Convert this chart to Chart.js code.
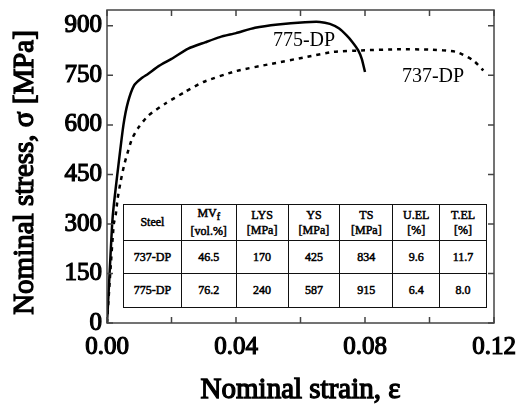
<!DOCTYPE html>
<html>
<head>
<meta charset="utf-8">
<script src="https://cdn.jsdelivr.net/npm/chart.js@4"></script>
<style>
  body { margin: 0; background: #fff; }
  #wrap { position: relative; width: 527px; height: 405px; }
  #props {
    position: absolute; left: 123px; top: 204px; width: 364px; height: 103px;
    border-collapse: collapse; background: #fff;
    font-family: "Liberation Serif", serif; font-size: 12px;
    -webkit-text-stroke: 0.5px #000;
    color: #000; text-align: center;
  }
  #props td { border: 1.5px solid #111; padding: 0; line-height: 1.25; }
</style>
</head>
<body>
<div id="wrap">
  <canvas id="chart" width="527" height="405"></canvas>
  <table id="props"></table>
</div>
<script>
// curves: strain / stress in MPa
const strain775 = [0, 0.0008, 0.0016, 0.0021, 0.0032, 0.0051, 0.0065, 0.0084, 0.0105, 0.0128, 0.016, 0.020, 0.0252, 0.0304, 0.035, 0.040, 0.0459, 0.053, 0.0614, 0.066, 0.0691, 0.072, 0.0743, 0.076, 0.0779, 0.079, 0.080];
const stress775 = [0, 150, 300, 357, 450, 600, 669, 720, 740, 755, 778, 800, 831, 850, 866, 878, 894, 904, 911, 912, 906, 892, 871, 852, 826, 800, 760];
const strain737 = [0, 0.0010, 0.0021, 0.0027, 0.0033, 0.0042, 0.0053, 0.0063, 0.0078, 0.0099, 0.0128, 0.018, 0.0242, 0.0299, 0.040, 0.051, 0.0614, 0.0701, 0.080, 0.090, 0.100, 0.1084, 0.1136, 0.1167];
const stress737 = [0, 150, 300, 327, 377, 427, 478, 513, 559, 594, 628, 664, 700, 730, 763, 785, 805, 821, 826, 829, 828, 821, 795, 765];

const yTicks = [0, 150, 300, 450, 600, 750, 900];
const xTicks = [0, 0.04, 0.08, 0.12];
const xMarks = [0, 0.02, 0.04, 0.06, 0.08, 0.10, 0.12];

// table of properties
const tableHead = ['Steel', 'MV<sub>f</sub><br>[vol.%]', 'LYS<br>[MPa]', 'YS<br>[MPa]', 'TS<br>[MPa]', 'U.EL<br>[%]', 'T.EL<br>[%]'];
const steelNames = ['737-DP', '775-DP'];
const mvf = ['46.5', '76.2'];
const lys = ['170', '240'];
const ys = ['425', '587'];
const ts = ['834', '915'];
const uel = ['9.6', '6.4'];
const tel = ['11.7', '8.0'];

const colWidths = [58, 55, 52, 52, 53, 47, 47];
const rowHeights = [36, 33, 34];

const table = document.getElementById('props');
let html = '<colgroup>' + colWidths.map(w => `<col style="width:${w}px">`).join('') + '</colgroup>';
html += `<tr style="height:${rowHeights[0]}px">` + tableHead.map(h => `<td>${h}</td>`).join('') + '</tr>';
steelNames.forEach((name, i) => {
    const cells = [name, mvf[i], lys[i], ys[i], ts[i], uel[i], tel[i]];
    html += `<tr style="height:${rowHeights[i + 1]}px">` + cells.map(c => `<td>${c}</td>`).join('') + '</tr>';
});
table.innerHTML = html;

const toPoints = (xs, vs) => xs.map((x, i) => ({ x: x, y: vs[i] }));

// no bold face of the serif font here, so bold text is faked with a stroke
const serif = '"Liberation Serif", "Times New Roman", serif';

const boldText = (ctx, text, x, y) => {
    ctx.fillText(text, x, y);
    ctx.strokeText(text, x, y);
};

const frameTicks = {
    id: 'frameTicks',
    afterDatasetsDraw(chart) {
        const { ctx, chartArea: a, scales: { x, y } } = chart;
        ctx.save();
        ctx.strokeStyle = '#444';
        ctx.lineWidth = 1.5;
        ctx.strokeRect(a.left, a.top, a.right - a.left, a.bottom - a.top);
        ctx.beginPath();
        xMarks.forEach(v => {
            const px = x.getPixelForValue(v);
            ctx.moveTo(px, a.bottom); ctx.lineTo(px, a.bottom - 6);
            ctx.moveTo(px, a.top); ctx.lineTo(px, a.top + 6);
        });
        yTicks.forEach(v => {
            const py = y.getPixelForValue(v);
            ctx.moveTo(a.left, py); ctx.lineTo(a.left + 6, py);
            ctx.moveTo(a.right, py); ctx.lineTo(a.right - 6, py);
        });
        ctx.stroke();

        // curve names
        ctx.fillStyle = '#000';
        ctx.font = '20px ' + serif;
        ctx.textAlign = 'center';
        ctx.textBaseline = 'middle';
        ctx.fillText('775-DP', x.getPixelForValue(0.0611), y.getPixelForValue(856));
        ctx.fillText('737-DP', x.getPixelForValue(0.1011), y.getPixelForValue(747));

        // axis titles
        ctx.font = '29px ' + serif;
        ctx.strokeStyle = '#000';
        ctx.lineWidth = 1.3;
        boldText(ctx, 'Nominal strain, ε', (a.left + a.right) / 2, 390);
        ctx.translate(25, (a.top + a.bottom) / 2 + 6);
        ctx.rotate(-Math.PI / 2);
        boldText(ctx, 'Nominal stress, σ [MPa]', 0, 0);
        ctx.restore();
    }
};

const tickFont = { family: serif, size: 25 };

new Chart(document.getElementById('chart'), {
    type: 'line',
    data: {
        datasets: [{
            label: '775-DP',
            data: toPoints(strain775, stress775),
            borderColor: '#000',
            borderWidth: 2.5,
            pointRadius: 0,
            tension: 0.2
        }, {
            label: '737-DP',
            data: toPoints(strain737, stress737),
            borderColor: '#000',
            borderWidth: 2.5,
            borderDash: [4, 5],
            pointRadius: 0,
            tension: 0.2
        }]
    },
    options: {
        responsive: false,
        animation: false,
        layout: { padding: { top: 10, right: 33, left: 0, bottom: 0 } },
        plugins: { legend: { display: false }, tooltip: { enabled: false } },
        scales: {
            x: {
                type: 'linear',
                min: 0,
                max: 0.12,
                afterBuildTicks: s => { s.ticks = xTicks.map(v => ({ value: v })); },
                afterFit: s => { s.height = 82; s.paddingLeft = 0; s.paddingRight = 0; },
                grid: { display: false, drawTicks: false },
                border: { display: false },
                ticks: {
                    color: '#000',
                    font: tickFont,
                    textStrokeColor: '#000',
                    textStrokeWidth: 1.2,
                    padding: 9,
                    maxRotation: 0,
                    callback: v => v.toFixed(2)
                }
            },
            y: {
                type: 'linear',
                min: 0,
                max: 948,
                afterBuildTicks: s => { s.ticks = yTicks.map(v => ({ value: v })); },
                afterFit: s => { s.width = 107; s.paddingTop = 0; s.paddingBottom = 0; },
                grid: { display: false, drawTicks: false },
                border: { display: false },
                ticks: {
                    color: '#000',
                    font: tickFont,
                    textStrokeColor: '#000',
                    textStrokeWidth: 1.2,
                    padding: 5
                }
            }
        }
    },
    plugins: [frameTicks]
});
</script>
</body>
</html>
